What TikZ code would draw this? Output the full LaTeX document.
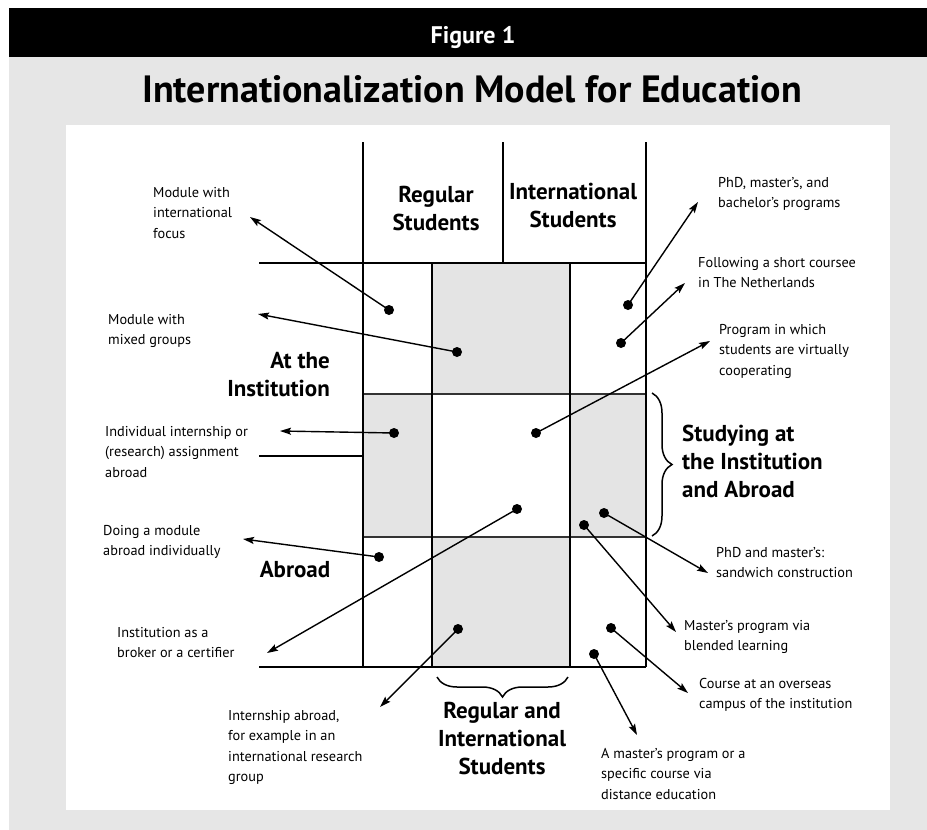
\documentclass[tikz,border=0pt]{standalone}
\usepackage{fontspec}
\setmainfont{PT Sans}
\usetikzlibrary{arrows.meta,decorations.pathreplacing}

\definecolor{panelgray}{HTML}{E6E6E6}
\definecolor{cellgray}{HTML}{E4E4E4}

\tikzset{
  note/.style={anchor=base west, align=left, inner sep=0pt, font=\fontsize{14.3}{20.5}\selectfont},
  heading/.style={anchor=base, align=center, inner sep=0pt, font=\bfseries\fontsize{23}{28}\selectfont},
  dot/.style={circle, fill=black, inner sep=0pt, minimum size=10pt},
  pointer/.style={-{Stealth[length=11pt,width=7pt,inset=2pt]}, line width=1.4pt},
  gridline/.style={line width=2.4pt},
  rowline/.style={line width=1.4pt, black!80},
  bracket/.style={decorate, decoration={brace, amplitude=20pt}, line width=1.5pt},
}

\begin{document}
\begin{tikzpicture}[x=1pt, y=-1pt]
    \useasboundingbox (0,0) rectangle (927,830);
    % Frame and title
    \fill[white] (0,0) rectangle (927,830);
    \fill[panelgray] (9,57) rectangle (927,830);
    \fill[black] (9,8) rectangle (927,57);
    \fill[white] (66,125) rectangle (890,810);
    \node[anchor=base, inner sep=0pt, text=white, font=\bfseries\fontsize{24}{24}\selectfont] (fig) at (473,43) {Figure 1};
    \node[anchor=base, inner sep=0pt, font=\bfseries\fontsize{38}{38}\selectfont] (title) at (472,102) {Internationalization Model for Education};

    % Shaded cells
    \fill[cellgray] (432,263) rectangle (570,394);
    \fill[cellgray] (363,394) rectangle (432,537);
    \fill[cellgray] (570,394) rectangle (646,537);
    \fill[cellgray] (432,537) rectangle (570,667);

    % Draw lines
    \draw[rowline] (363,394) -- (646,394);
    \draw[rowline] (363,537) -- (646,537);
    \foreach \x in {363,646} \draw[gridline] (\x,142) -- (\x,667);
    \foreach \x in {432,570} \draw[gridline] (\x,263) -- (\x,667);
    \draw[gridline] (503,142) -- (503,263);
    \draw[gridline] (259,263) -- (646,263); % top of grid
    \draw[gridline] (259,456) -- (363,456); % divider institution / abroad
    \draw[gridline] (259,667) -- (646,667); % bottom of grid

    % Braces
    \draw[bracket] (652,393) -- (652,536);
    \draw[bracket] (568,677) -- (437,677);

    % Headings (base = last line)
    \node[heading] (regular) at (436,230) {Regular\\Students};
    \node[heading] (international) at (573,227) {International\\Students};
    \node[heading, anchor=base east, align=right] (institution) at (330,396) {At the\\Institution};
    \node[heading] (abroad) at (295,577) {Abroad};
    \node[heading, anchor=base west, align=left] (both) at (682,497) {Studying at\\the Institution\\and Abroad};
    \node[heading] (mixed) at (502,774) {Regular and\\International\\Students};

    % Labels (base = last line)
    \node[note] (focus) at (153,238) {Module with\\international\\focus};
    \node[note] (groups) at (108,344.5) {Module with\\mixed groups};
    \node[note] (internship) at (105,477) {Individual internship or\\(research) assignment\\abroad};
    \node[note] (module) at (103,555.5) {Doing a module\\abroad individually};
    \node[note] (broker) at (117,657.5) {Institution as a\\broker or a certifier};
    \node[note] (research) at (228,781.5) {Internship abroad,\\for example in an\\international research\\group};
    \node[note] (distance) at (601,799) {A master's program or a\\specific course via\\distance education};
    \node[note] (campus) at (699,708.5) {Course at an overseas\\campus of the institution};
    \node[note] (blended) at (684,650.5) {Master's program via\\blended learning};
    \node[note] (sandwich) at (716,577.5) {PhD and master's:\\sandwich construction};
    \node[note] (programs) at (718,207.5) {PhD, master's, and\\bachelor's programs};
    \node[note] (short) at (698,287.5) {Following a short coursee\\in The Netherlands};
    \node[note] (virtual) at (719,375) {Program in which\\students are virtually\\cooperating};

    % Dots
    \node[dot] (dfocus) at (389,310) {};
    \node[dot] (dgroups) at (457,352) {};
    \node[dot] (dinternship) at (394,433) {};
    \node[dot] (dvirtual) at (536,433) {};
    \node[dot] (dbroker) at (517,509) {};
    \node[dot] (dsandwich) at (604,513) {};
    \node[dot] (dblended) at (584,525) {};
    \node[dot] (dmodule) at (379,557) {};
    \node[dot] (dresearch) at (458,629) {};
    \node[dot] (dcampus) at (611,628) {};
    \node[dot] (ddistance) at (594,654) {};
    \node[dot] (dprograms) at (628,305) {};
    \node[dot] (dshort) at (621,343) {};

    % Arrow ends
    \coordinate (tfocus) at (250,217);
    \coordinate (tgroups) at (258,314);
    \coordinate (tinternship) at (280,431);
    \coordinate (tvirtual) at (710,341);
    \coordinate (tbroker) at (267,653);
    \coordinate (tsandwich) at (708,573);
    \coordinate (tblended) at (676,632);
    \coordinate (tmodule) at (243,539);
    \coordinate (tresearch) at (380,707);
    \coordinate (tcampus) at (688,693);
    \coordinate (tdistance) at (637,735);
    \coordinate (tprograms) at (698,202);
    \coordinate (tshort) at (685,283);

    % Draw pointers
    \foreach \n in {focus,groups,internship,virtual,broker,sandwich,blended,module,research,campus,distance,programs,short}
        \draw[pointer] (d\n.center) -- (t\n);
\end{tikzpicture}
\end{document}
